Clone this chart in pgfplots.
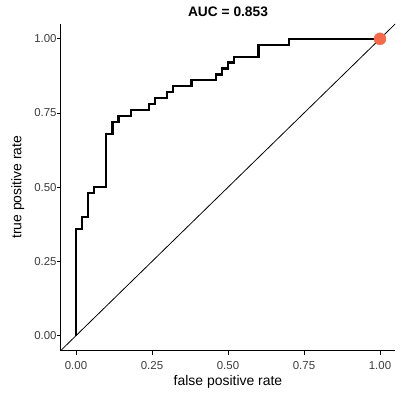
\documentclass[border=0pt]{standalone}
\usepackage{fontspec}
\setmainfont{Liberation Sans}
\usepackage{pgfplots}
\pgfplotsset{compat=1.18}
\definecolor{ticklab}{RGB}{60,60,60}
\definecolor{ptcol}{RGB}{243,106,76}
\begin{document}
\begin{tikzpicture}
\begin{axis}[
  scale only axis, width=334.4bp, height=326.5bp,
  xmin=-0.05, xmax=1.05, ymin=-0.05, ymax=1.05,
  axis x line*=bottom, axis y line*=left,
  axis line style={-, line width=0.9bp, black},
  xtick={0,0.25,0.5,0.75,1}, ytick={0,0.25,0.5,0.75,1},
  tick align=outside, major tick length=4bp,
  tick style={line width=0.9bp, black},
  /pgf/number format/assume math mode=true,
  /pgf/number format/.cd, fixed, fixed zerofill, precision=2, /pgfplots/.cd,
  xticklabel style={font=\fontsize{11.5}{13}\selectfont, text=ticklab, inner sep=1bp, yshift=-6bp},
  yticklabel style={font=\fontsize{11.5}{13}\selectfont, text=ticklab, inner sep=1bp, xshift=1bp},
  xlabel={false positive rate}, ylabel={true positive rate},
  xlabel style={font=\fontsize{14}{16}\selectfont, at={(axis description cs:0.5,-0.095)}, anchor=center, inner sep=0pt},
  ylabel style={font=\fontsize{14}{16}\selectfont, at={(axis description cs:-0.1287,0.5)}, anchor=center, inner sep=0pt},
  title={\bfseries AUC = 0.853},
  title style={font=\fontsize{13.8}{16}\selectfont, at={(axis description cs:0.5,1.0368)}, anchor=center, inner sep=0pt, yshift=-6pt},
]
\coordinate (sw) at (rel axis cs:0,0);
\addplot[black, line width=0.8bp] coordinates {(-0.05,-0.05) (1.05,1.05)};
\addplot[black, line width=2.2bp, line join=miter] coordinates {
(0,0) (0,0.36) (0.02,0.36) (0.02,0.40) (0.04,0.40) (0.04,0.48) (0.06,0.48) (0.06,0.50)
(0.10,0.50) (0.10,0.68) (0.12,0.68) (0.12,0.72) (0.14,0.72) (0.14,0.74) (0.18,0.74)
(0.18,0.76) (0.24,0.76) (0.24,0.78) (0.26,0.78) (0.26,0.80) (0.30,0.80) (0.30,0.82)
(0.32,0.82) (0.32,0.84) (0.38,0.84) (0.38,0.86) (0.46,0.86) (0.46,0.88) (0.48,0.88)
(0.48,0.90) (0.50,0.90) (0.50,0.92) (0.52,0.92) (0.52,0.94) (0.60,0.94) (0.60,0.98)
(0.70,0.98) (0.70,1.0) (1.0,1.0)};
\addplot[only marks, mark=*, mark size=6bp, color=ptcol] coordinates {(1,1)};
\end{axis}
\path (sw) ++(-60.8bp,-46.5bp) rectangle ++(401bp,397bp);
\end{tikzpicture}
\end{document}
